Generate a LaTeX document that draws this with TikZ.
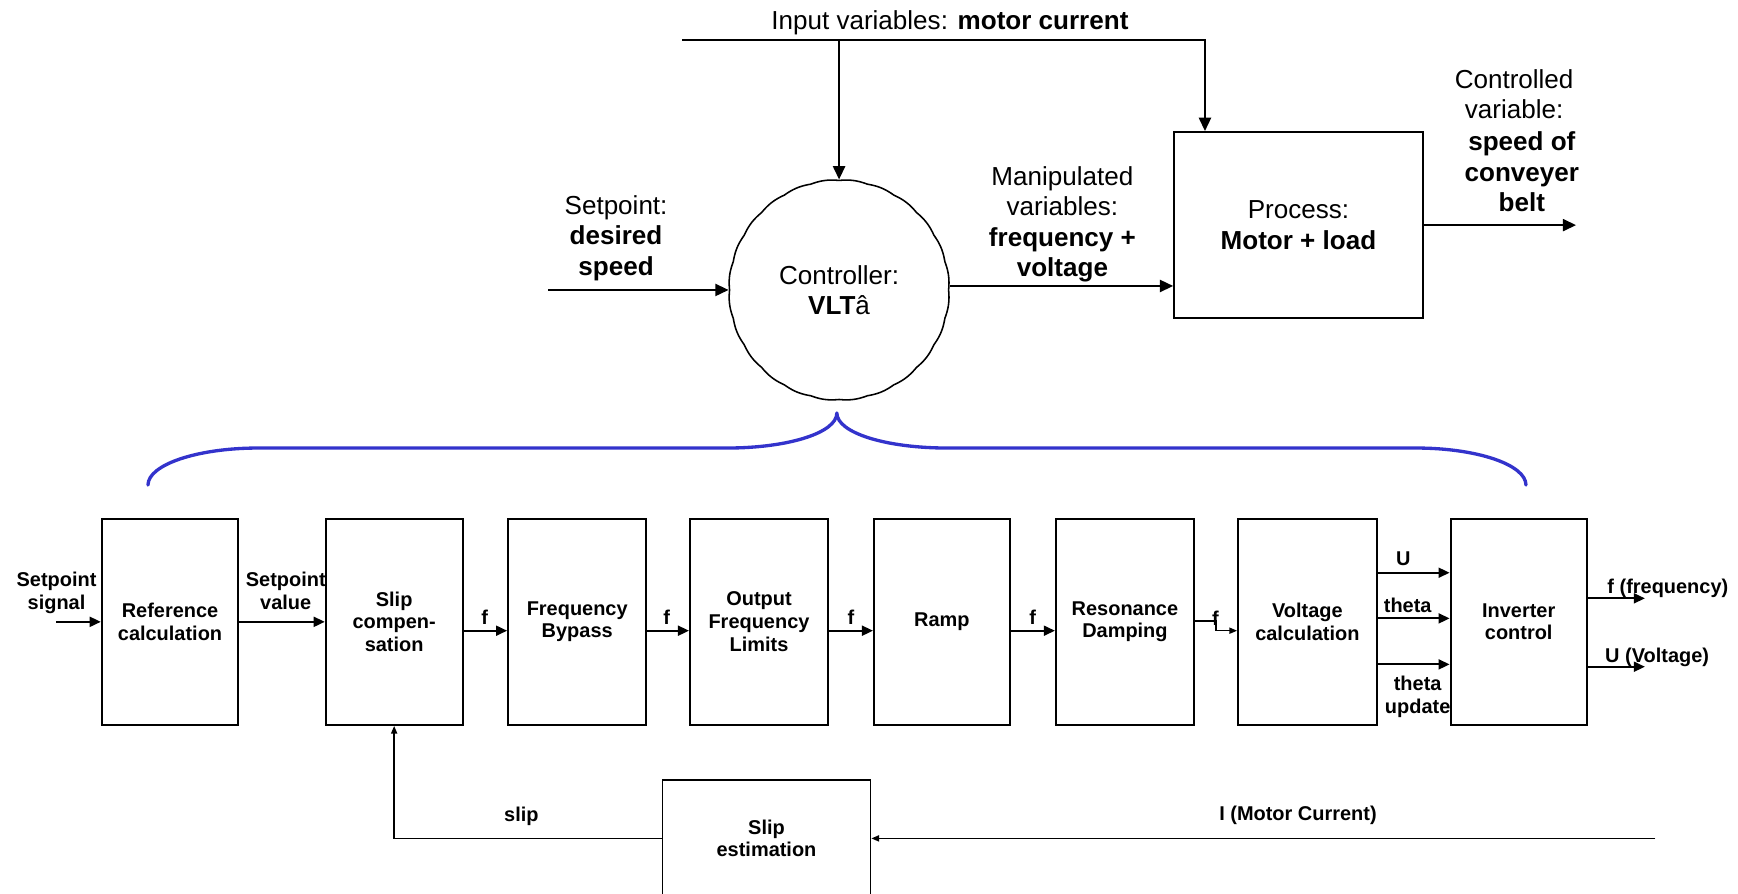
\documentclass[tikz,border=0pt]{standalone}
\usepackage{fontspec}
\setmainfont{Liberation Sans}
\usetikzlibrary{arrows.meta}
\definecolor{bracecol}{RGB}{51,51,204}
\begin{document}
\begin{tikzpicture}[x=1pt,y=-1pt,
  toptxt/.style={font=\fontsize{23.5}{27.5}\selectfont, align=center, inner sep=0pt},
  lowtxt/.style={font=\bfseries\fontsize{18}{20.5}\selectfont, align=center, inner sep=0pt},
  procbox/.style={draw, line width=1.6pt, minimum width=224.4pt, minimum height=168.2pt, inner sep=0pt, toptxt},
  blockbox/.style={draw, line width=1.8pt, minimum height=186pt, inner sep=0pt, lowtxt},
  arrT/.style={line width=1.6pt, -{Triangle[length=12pt,width=11pt]}},
  arrB/.style={line width=1.8pt, -{Triangle[length=10pt,width=9pt]}},
  arrS/.style={line width=1.4pt, -{Triangle[length=7pt,width=5.5pt]}},
  bracestyle/.style={draw=bracecol, line width=3pt, line cap=round, line join=round}
]
\clip (0,0) rectangle (1568,806);
\fill[white] (0,0) rectangle (1568,806);

% ---------- upper loop: controller and process ----------
\node[circle, minimum size=199pt, inner sep=0pt, toptxt] (ctrl) at (757,261.6) {Controller:\\\textbf{VLT}â};
% scalloped outline of the controller
\draw[line width=1.4pt] plot[domain=0:360, samples=361]
  ({757+(98.8+0.8*abs(sin(12*\x)))*cos(\x)},
   {261.6+(98.8+0.8*abs(sin(12*\x)))*sin(\x)}) -- cycle;

\node[procbox] (proc) at (1171.4,203.1) {Process:\\\textbf{Motor + load}};

\node[toptxt, anchor=base] (intxt) at (857,26.5) {Input variables: \textbf{motor current}};
\coordinate (inL) at (615.3,36.1);
\draw[arrT] (inL) -| ([xshift=28.7pt]proc.north west);
\draw[arrT] (inL -| ctrl.north) -- (ctrl.north);

\node[toptxt, anchor=base] (sptxt) at (555.8,248.5) {Setpoint:\\\textbf{desired}\\\textbf{speed}};
\coordinate (spin) at (494.5,261.6);
\draw[arrT] (spin) -- (ctrl.west);

\node[toptxt, anchor=base] (mvtxt) at (958.5,249.6) {Manipulated\\variables:\\\textbf{frequency +}\\\textbf{voltage}};
\coordinate (mvA) at ([yshift=3.6pt]ctrl.east);
\draw[arrT] (mvA) -- (mvA -| proc.west);

\node[toptxt, anchor=base] (cvtxt) at (1366,107) {Controlled\\variable:};
\node[toptxt, anchor=base] (cvval) at (1373,191) {\textbf{speed of}\\\textbf{conveyer}\\\textbf{belt}};
\coordinate (pout) at (1421.9,203.1);
\draw[arrT] (proc.east) -- (pout);

% ---------- brace opening the controller ----------
\draw[bracestyle] (133.5,437.6) .. controls (133.5,419.2) and (178,404.2) .. (232.8,404.2)
  -- (656,404.2) .. controls (710.7,404.2) and (755,390.6) .. (755,372.6)
  .. controls (755,390.6) and (799.6,404.2) .. (854.4,404.2)
  -- (1277.5,404.2) .. controls (1332.3,404.2) and (1376.7,419.2) .. (1376.7,437.6);

% ---------- lower chain: function blocks ----------
\node[blockbox, minimum width=123.1pt] (ref)   at (153.4,561)  {Reference\\calculation};
\node[blockbox, minimum width=123.4pt] (slipc) at (355.6,561)  {Slip\\compen-\\sation};
\node[blockbox, minimum width=124.7pt] (fb)    at (520.75,561) {Frequency\\Bypass};
\node[blockbox, minimum width=124.5pt] (ofl)   at (684.75,561) {Output\\Frequency\\Limits};
\node[blockbox, minimum width=122.5pt] (ramp)  at (849.75,561) {Ramp};
\node[blockbox, minimum width=124.6pt] (rd)    at (1014.9,561) {Resonance\\Damping};
\node[blockbox, minimum width=125pt]   (vc)    at (1179.5,561) {Voltage\\calculation};
\node[blockbox, minimum width=122.9pt] (ic)    at (1370.15,561) {Inverter\\control};
\node[draw, line width=1.4pt, minimum width=187.7pt, minimum height=105.4pt, inner sep=0pt, lowtxt]
  (slipe) at (691.55,756.4) {Slip\\estimation};

% signals between the blocks
\coordinate (sigin) at (50.6,561);
\draw[arrB] (sigin) -- (ref.west);
\node[lowtxt, anchor=base] (sigtxt) at (51,549.7) {Setpoint\\signal};

\draw[arrB] (ref.east) -- (slipc.west);
\node[lowtxt, anchor=base] (spvtxt) at (257.8,549.7) {Setpoint\\value};

\draw[arrB] ([yshift=-8pt]slipc.east) -- ([yshift=-8pt]fb.west);
\node[lowtxt, anchor=base] (f1) at (437.2,563.5) {f};
\draw[arrB] ([yshift=-8pt]fb.east) -- ([yshift=-8pt]ofl.west);
\node[lowtxt, anchor=base] (f2) at (601.4,563.5) {f};
\draw[arrB] ([yshift=-8pt]ofl.east) -- ([yshift=-8pt]ramp.west);
\node[lowtxt, anchor=base] (f3) at (767.6,563.5) {f};
\draw[arrB] ([yshift=-8pt]ramp.east) -- ([yshift=-8pt]rd.west);
\node[lowtxt, anchor=base] (f4) at (931.6,563.5) {f};
\draw[arrS] ([yshift=1pt]rd.east) -- ++(19,0) |- ([yshift=-8pt]vc.west);
\node[lowtxt, anchor=base] (f5) at (1096.5,564) {f};

\draw[arrB] ([yshift=44.3pt]vc.east) -- ([yshift=44.3pt]ic.west);
\node[lowtxt, anchor=base] (utxt) at (1266,510.6) {U};
\draw[arrB] ([yshift=3.1pt]vc.east) -- ([yshift=3.1pt]ic.west);
\node[lowtxt, anchor=base] (thtxt) at (1270,553) {theta};
\draw[arrB] ([yshift=-38.4pt]vc.east) -- ([yshift=-38.4pt]ic.west);
\node[lowtxt, anchor=base] (thutxt) at (1279,643.5) {theta\\update};

\coordinate (fout) at (1484,539.8);
\coordinate (uout) at (1484,601.5);
\draw[arrB] ([yshift=21.2pt]ic.east) -- (fout);
\draw[arrB] ([yshift=-40.5pt]ic.east) -- (uout);
\node[lowtxt, anchor=base west] (fotxt) at (1450,535) {f (frequency)};
\node[lowtxt, anchor=base west] (uotxt) at (1448,598) {U (Voltage)};

% current feedback through slip estimation
\coordinate (iin) at (1493.5,756.4);
\draw[arrS] (iin) -- (slipe.east);
\node[lowtxt, anchor=base] (itxt) at (1171,739.8) {I (Motor Current)};
\draw[arrS] (slipe.west) -| (slipc.south);
\node[lowtxt, anchor=base] (sliptxt) at (470.4,741.3) {slip};
\end{tikzpicture}
\end{document}
